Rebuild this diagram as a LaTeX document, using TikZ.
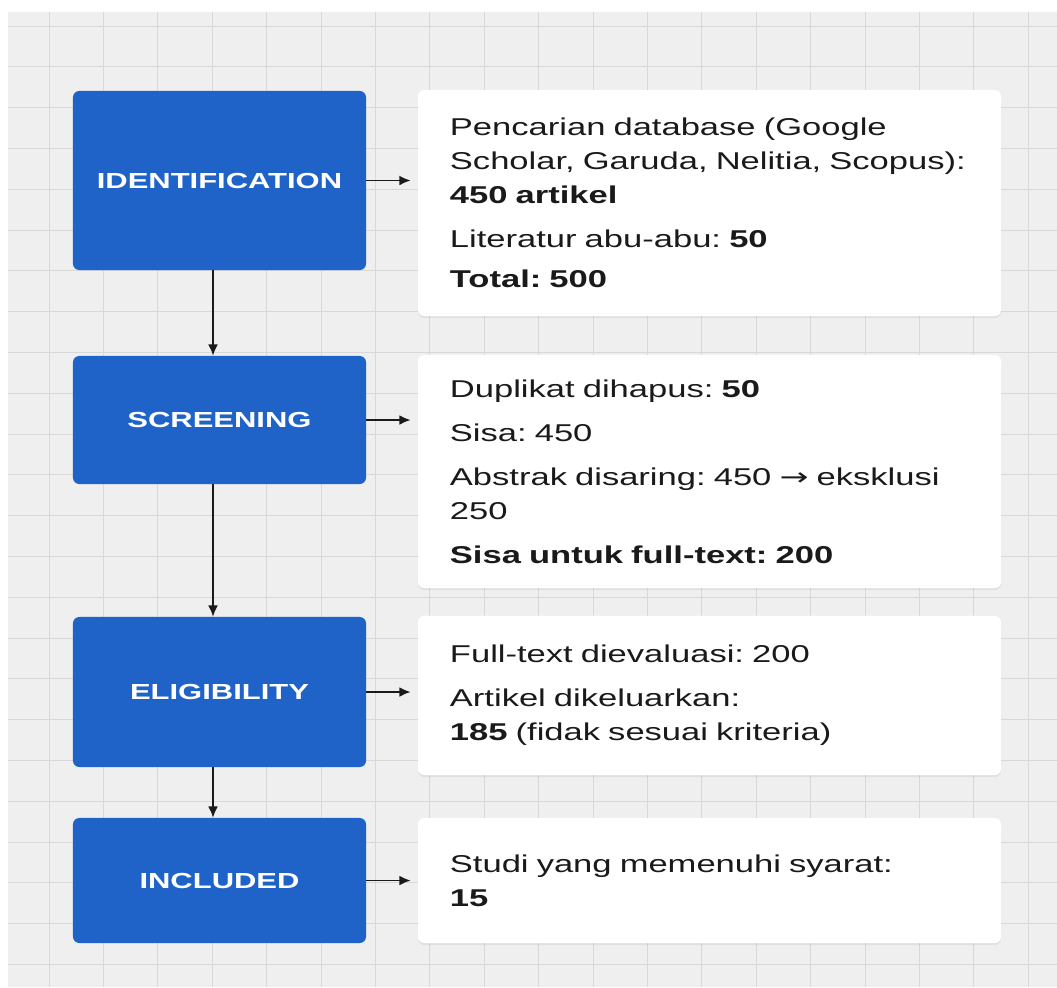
\documentclass[tikz,border=0pt]{standalone}
\usepackage{fontspec}
\setmainfont{Liberation Sans}[FakeStretch=1.42]
\newfontfamily\arrowfont{DejaVu Sans}[FakeStretch=1.42]
\usetikzlibrary{arrows.meta,shadows}
\definecolor{stageblue}{HTML}{1F63C8}
\definecolor{canvas}{HTML}{EFEFEF}
\definecolor{gridgray}{HTML}{D8D8D8}
\definecolor{ink}{HTML}{1A1A1A}
\frenchspacing
\begin{document}
\begin{tikzpicture}[x=0.025cm, y=-0.025cm,
  phase/.style={fill=stageblue, rounded corners=4.5pt, minimum width=7.325cm,
    text=white, font=\fontsize{15.5}{18}\selectfont\bfseries},
  infobox/.style={fill=white, rounded corners=4.5pt, minimum width=14.575cm,
    inner xsep=0.8cm, text width=12.975cm, align=left, text=ink,
    font=\fontsize{17.3}{24.2}\selectfont,
    drop shadow={shadow xshift=0pt, shadow yshift=-1.5pt, opacity=0.12}},
  flow/.style={-{Latex[length=8pt,width=7pt]}, line width=1.2pt, draw=ink},
  gridline/.style={draw=gridgray, line width=0.6pt}]
\useasboundingbox (0,0) rectangle (1057,987);
% background grid
\fill[white] (0,0) rectangle (1057,987);
\fill[canvas] (8,12) rectangle (1057,987);
\foreach \gx in {49,103.4,...,1057} \draw[gridline] (\gx,12) -- (\gx,987);
\foreach \gy in {26,66.8,...,987} \draw[gridline] (8,\gy) -- (1057,\gy);
% stages
\node[phase, minimum height=4.475cm] (idf) at (219.5,180.5) {IDENTIFICATION};
\node[phase, minimum height=3.2cm] (scr) at (219.5,420) {SCREENING};
\node[phase, minimum height=3.75cm] (elg) at (219.5,692) {ELIGIBILITY};
\node[phase, minimum height=3.125cm] (inc) at (219.5,880.5) {INCLUDED};
% counts
\node[infobox, minimum height=5.65cm] (idfbox) at (709.5,203) {Pencarian database (Google\\ Scholar, Garuda, Nelitia, Scopus):\\ \textbf{450 artikel}\\[7pt] Literatur abu-abu: \textbf{50}\\[4pt] \textbf{Total: 500}};
\node[infobox, minimum height=5.825cm] (scrbox) at (709.5,471.5) {Duplikat dihapus: \textbf{50}\\[7pt] Sisa: 450\\[7pt] Abstrak disaring: 450 {\arrowfont →} eksklusi\\ 250\\[7pt] \textbf{Sisa untuk full-text: 200}};
\node[infobox, minimum height=3.975cm] (elgbox) at (709.5,695.5) {Full-text dievaluasi: 200\\[7pt] Artikel dikeluarkan:\\ \textbf{185} (fidak sesuai kriteria)};
\node[infobox, minimum height=3.125cm] (incbox) at (709.5,880.5) {Studi yang memenuhi syarat:\\ \textbf{15}};
% arrows
\draw[flow] ([xshift=-4.6pt]idf.south) -- ([xshift=-4.6pt]scr.north);
\draw[flow] ([xshift=-4.6pt]scr.south) -- ([xshift=-4.6pt]elg.north);
\draw[flow] ([xshift=-4.6pt]elg.south) -- ([xshift=-4.6pt]inc.north);
\draw[flow, shorten >=5pt] (idf.east) -- (idf.east -| idfbox.west);
\draw[flow, shorten >=5pt] (scr.east) -- (scr.east -| scrbox.west);
\draw[flow, shorten >=5pt] (elg.east) -- (elg.east -| elgbox.west);
\draw[flow, shorten >=5pt] (inc.east) -- (inc.east -| incbox.west);
\end{tikzpicture}
\end{document}
